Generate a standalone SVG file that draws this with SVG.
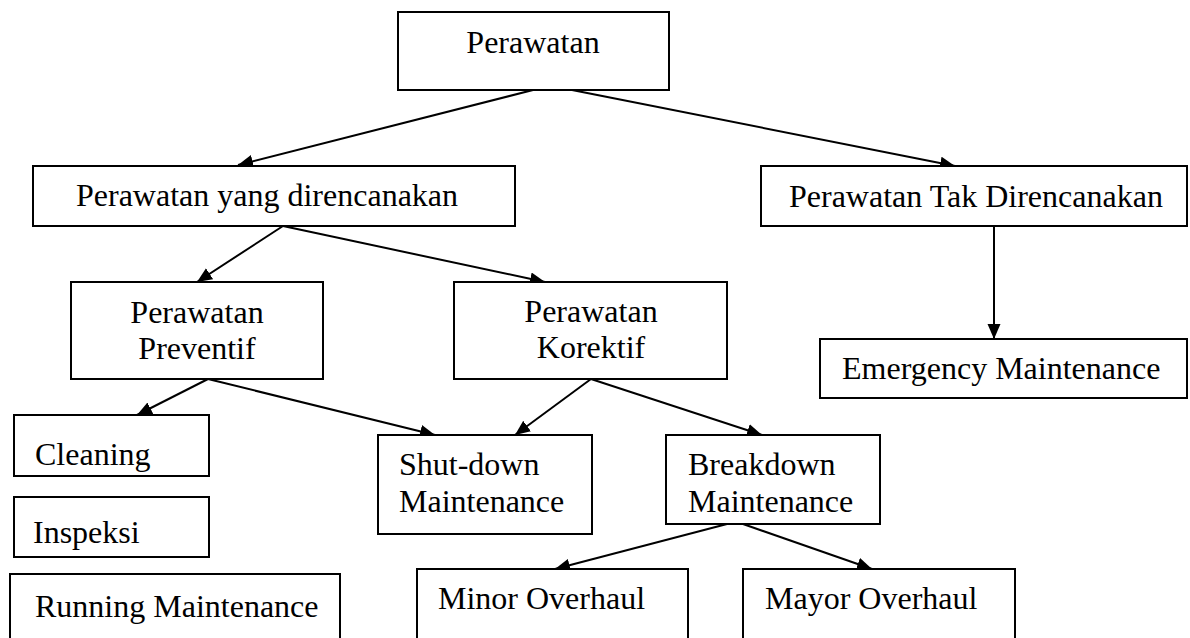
<svg xmlns="http://www.w3.org/2000/svg" width="1190" height="638" viewBox="0 0 1190 638">
<style>
.box{fill:#fff;stroke:#000;stroke-width:2}
.t{font-family:"Liberation Serif","Times New Roman",serif;font-size:32px;fill:#000}
.m{text-anchor:middle}
.c{fill:none;stroke:#000;stroke-width:2;marker-end:url(#ah)}
</style>
<defs>
<marker id="ah" markerUnits="userSpaceOnUse" markerWidth="16" markerHeight="14" refX="15" refY="6.5" orient="auto">
<path d="M0,0 L15,6.5 L0,13 Z" fill="#000"/>
</marker>
</defs>
<rect width="1190" height="638" fill="#fff"/>
<g id="connectors">
<line class="c" x1="533" y1="90" x2="238" y2="165"/>
<line class="c" x1="572" y1="90" x2="955" y2="166"/>
<line class="c" x1="283" y1="226" x2="197" y2="282"/>
<line class="c" x1="283" y1="226" x2="545" y2="282"/>
<line class="c" x1="994" y1="226" x2="994" y2="339"/>
<line class="c" x1="208" y1="379" x2="137" y2="415"/>
<line class="c" x1="208" y1="379" x2="435" y2="435"/>
<line class="c" x1="591" y1="379" x2="515" y2="435"/>
<line class="c" x1="591" y1="379" x2="762" y2="435"/>
<line class="c" x1="727" y1="524" x2="555" y2="569"/>
<line class="c" x1="743" y1="524" x2="872" y2="569"/>
</g>
<g id="perawatan">
<rect class="box" x="398" y="12" width="271" height="78"/>
<text class="t m" x="533" y="53">Perawatan</text>
</g>
<g id="direncanakan">
<rect class="box" x="33" y="166" width="482" height="60"/>
<text class="t" x="76" y="206">Perawatan yang direncanakan</text>
</g>
<g id="tak-direncanakan">
<rect class="box" x="761" y="166" width="426" height="60"/>
<text class="t" x="789" y="207">Perawatan Tak Direncanakan</text>
</g>
<g id="preventif">
<rect class="box" x="71" y="282" width="252" height="97"/>
<text class="t m" x="197" y="323">Perawatan</text>
<text class="t m" x="197" y="359">Preventif</text>
</g>
<g id="korektif">
<rect class="box" x="454" y="282" width="273" height="97"/>
<text class="t m" x="591" y="322">Perawatan</text>
<text class="t m" x="591" y="358">Korektif</text>
</g>
<g id="emergency">
<rect class="box" x="820" y="339" width="367" height="59"/>
<text class="t" x="842" y="379">Emergency Maintenance</text>
</g>
<g id="cleaning">
<rect class="box" x="14" y="415" width="195" height="61"/>
<text class="t" x="35" y="465">Cleaning</text>
</g>
<g id="inspeksi">
<rect class="box" x="14" y="497" width="195" height="60"/>
<text class="t" x="33" y="543">Inspeksi</text>
</g>
<g id="running">
<rect class="box" x="10" y="574" width="330" height="90"/>
<text class="t" x="35" y="617">Running Maintenance</text>
</g>
<g id="shutdown">
<rect class="box" x="378" y="435" width="214" height="99"/>
<text class="t" x="399" y="475">Shut-down</text>
<text class="t" x="399" y="512">Maintenance</text>
</g>
<g id="breakdown">
<rect class="box" x="666" y="435" width="214" height="89"/>
<text class="t" x="688" y="475">Breakdown</text>
<text class="t" x="688" y="512">Maintenance</text>
</g>
<g id="minor">
<rect class="box" x="417" y="569" width="271" height="90"/>
<text class="t" x="438" y="609">Minor Overhaul</text>
</g>
<g id="mayor">
<rect class="box" x="743" y="569" width="272" height="90"/>
<text class="t" x="765" y="609">Mayor Overhaul</text>
</g>
</svg>
